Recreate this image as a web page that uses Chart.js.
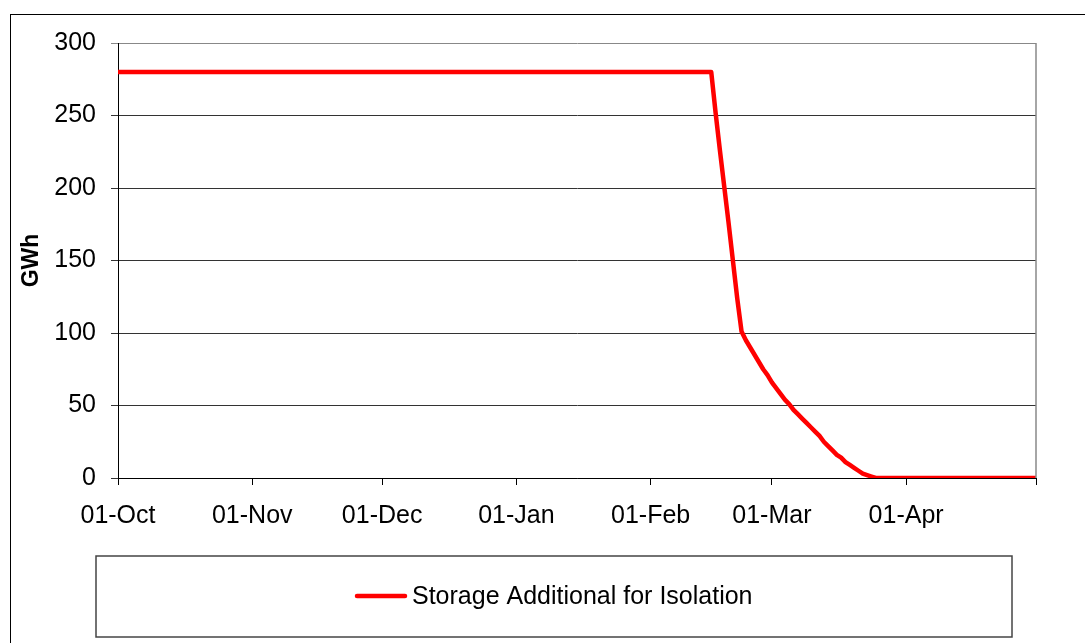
<!DOCTYPE html>
<html>
<head>
<meta charset="utf-8">
<script src="https://cdn.jsdelivr.net/npm/chart.js@4.4.0/dist/chart.umd.min.js"></script>
<style>
  html, body { margin: 0; padding: 0; background: #fff; }
  #wrap { width: 1085px; height: 643px; position: relative; }
</style>
</head>
<body>
<div id="wrap"><canvas id="chart_storage"></canvas></div>
<script>
// days counted from 01-Oct
var days = [0, 137, 138, 139, 140, 141, 142, 143, 144, 145, 146, 147, 148, 149, 150,
            151, 152, 153, 154, 155, 156, 157, 158, 159, 160, 161, 162, 163, 164, 165,
            166, 167, 168, 169, 170, 171, 172, 173, 174, 175, 212];
var storage = [280, 280, 252, 226, 201, 176, 150, 124, 101, 95, 90, 85, 80, 75, 71,
               66, 62, 58, 54, 51, 47, 44, 41, 38, 35, 32, 29, 25, 22, 19,
               16, 14, 11, 9, 7, 5, 3, 2, 1, 0, 0];
var monthDays = [0, 31, 61, 92, 123, 151, 182, 212];
var monthLabels = ["01-Oct", "01-Nov", "01-Dec", "01-Jan", "01-Feb", "01-Mar", "01-Apr", ""];
var seriesName = "Storage Additional for Isolation";

var pts = [];
for (let i = 0; i < days.length; i++) {
    pts.push({ x: days[i], y: storage[i] });
}

var FONT = "'Liberation Sans', Arial, sans-serif";

// frame, plot border and the boxed legend
var decor = {
    id: 'decor',
    beforeDraw: function (chart) {
        var c = chart.ctx;
        c.save();
        c.fillStyle = '#fff';
        c.fillRect(0, 0, chart.width, chart.height);
        c.strokeStyle = '#000';
        c.lineWidth = 1;
        c.strokeRect(10.5, 14.5, 1200, 1000);
        c.restore();
    },
    afterDraw: function (chart) {
        var c = chart.ctx;
        var a = chart.chartArea;
        c.save();
        // right border of plot
        c.strokeStyle = '#888';
        c.lineWidth = 1.5;
        c.beginPath();
        c.moveTo(a.right, a.top);
        c.lineTo(a.right, a.bottom);
        c.stroke();
        // legend box
        c.strokeStyle = '#444';
        c.lineWidth = 1.5;
        c.strokeRect(96, 556, 916, 81);
        c.strokeStyle = '#ff0000';
        c.lineWidth = 4.5;
        c.lineCap = 'round';
        c.beginPath();
        c.moveTo(357, 596);
        c.lineTo(405, 596);
        c.stroke();
        c.fillStyle = '#000';
        c.font = '25px ' + FONT;
        c.textBaseline = 'middle';
        c.fillText(chart.data.datasets[0].label, 412, 597);
        c.restore();
    }
};

const ctx = document.getElementById('chart_storage');
new Chart(ctx, {
    type: 'line',
    data: {
        datasets: [{
            label: seriesName,
            data: pts,
            borderColor: '#ff0000',
            backgroundColor: '#ff0000',
            borderWidth: 4.5,
            pointRadius: 0,
            tension: 0,
            borderJoinStyle: 'round'
        }]
    },
    options: {
        responsive: true,
        maintainAspectRatio: false,
        animation: false,
        layout: { padding: { left: 10, top: 43, right: 49, bottom: 0 } },
        plugins: {
            legend: { display: false },
            tooltip: { enabled: false }
        },
        scales: {
            x: {
                type: 'linear',
                min: 0,
                max: 212,
                afterBuildTicks: function (scale) {
                    scale.ticks = monthDays.map(function (v) { return { value: v }; });
                },
                afterFit: function (scale) { scale.height = 165; },
                ticks: {
                    autoSkip: false,
                    maxRotation: 0,
                    padding: 16,
                    color: '#000',
                    font: { family: FONT, size: 25 },
                    callback: function (v, i) { return monthLabels[i]; }
                },
                grid: {
                    drawOnChartArea: false,
                    drawTicks: true,
                    tickLength: 7,
                    color: '#000'
                },
                border: { color: '#000', width: 1 }
            },
            y: {
                min: 0,
                max: 300,
                afterFit: function (scale) { scale.width = 108; },
                ticks: {
                    stepSize: 50,
                    padding: 15,
                    color: '#000',
                    font: { family: FONT, size: 25 }
                },
                grid: {
                    tickLength: 7,
                    color: function (c) { return c.tick && c.tick.value === 300 ? '#888' : '#333'; }
                },
                border: { color: '#000', width: 1 },
                title: {
                    display: true,
                    text: 'GWh',
                    color: '#000',
                    font: { family: FONT, size: 23, weight: 'bold' },
                    padding: { top: 8 }
                }
            }
        }
    },
    plugins: [decor]
});
</script>
</body>
</html>
